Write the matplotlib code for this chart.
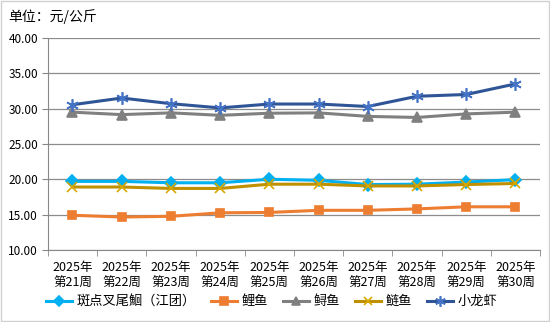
import numpy as np
import matplotlib.pyplot as plt

plt.rcParams['font.family'] = ['Noto Sans CJK SC', 'DejaVu Sans']

# Weekly prices (元/公斤)
weeks = ['2025年\n第21周', '2025年\n第22周', '2025年\n第23周', '2025年\n第24周', '2025年\n第25周',
         '2025年\n第26周', '2025年\n第27周', '2025年\n第28周', '2025年\n第29周', '2025年\n第30周']
catfish = [19.70, 19.70, 19.50, 19.50, 20.00, 19.85, 19.25, 19.30, 19.60, 19.95]
carp = [14.90, 14.65, 14.75, 15.25, 15.30, 15.60, 15.60, 15.80, 16.10, 16.10]
sturgeon = [29.50, 29.15, 29.40, 29.05, 29.35, 29.40, 28.90, 28.75, 29.25, 29.50]
silver_carp = [18.90, 18.90, 18.70, 18.70, 19.30, 19.30, 19.05, 19.05, 19.25, 19.40]
crayfish = [30.55, 31.50, 30.70, 30.10, 30.65, 30.65, 30.30, 31.75, 32.00, 33.50]

series = [
    ('斑点叉尾鮰（江团）', catfish, '#00B0F0', '#00B0F0', 'D', 6),
    ('鲤鱼', carp, '#ED7D31', '#ED7D31', 's', 6),
    ('鲟鱼', sturgeon, '#808080', '#808080', '^', 7),
    ('鲢鱼', silver_carp, '#BF9000', '#D8A800', 'x', 7),
    ('小龙虾', crayfish, '#2F5597', '#4472C4', (6, 2, 0), 9),
]

fig = plt.figure(figsize=(5.5, 3.22), dpi=100)
ax = fig.add_axes([0.087, 0.224, 0.895, 0.658])

x = np.arange(len(weeks))
for name, vals, lc, mc, mk, ms in series:
    ax.plot(x, vals, color=lc, lw=2.2, marker=mk, markersize=ms,
            markerfacecolor=mc, markeredgecolor=mc, markeredgewidth=1.2, label=name)

ax.set_xlim(-0.5, len(weeks) - 0.5)
ax.set_ylim(10, 40)
ax.set_yticks(np.arange(10, 41, 5))
ax.set_yticklabels([f'{v:.2f}' for v in np.arange(10, 41, 5)], fontsize=8.5)
ax.set_xticks(x)
ax.set_xticklabels(weeks, fontsize=9, linespacing=1.25)
ax.set_xticks(np.arange(-0.5, len(weeks)), minor=True)
ax.tick_params(axis='x', which='major', length=0, pad=8)
ax.tick_params(axis='x', which='minor', length=4, color='#888888')
ax.tick_params(axis='y', length=4, color='#888888', pad=3)

ax.grid(axis='y', color='#8c8c8c', lw=0.9)
ax.set_axisbelow(True)
for s in ['top', 'right']:
    ax.spines[s].set_visible(False)
for s in ['left', 'bottom']:
    ax.spines[s].set_color('#888888')

fig.text(0.015, 0.935, '单位：元/公斤', fontsize=10)

leg = ax.legend(loc='center', bbox_to_anchor=(0.455, -0.245), ncol=5, frameon=False,
                fontsize=9.5, handlelength=2.0, columnspacing=1.1, handletextpad=0.35,
                markerscale=0.85)

fig.patches.append(plt.Rectangle((0.001, 0.002), 0.997, 0.995, transform=fig.transFigure,
                                 fill=False, edgecolor='#d0d0d0', lw=1))

fig.savefig('out.png', dpi=100)
